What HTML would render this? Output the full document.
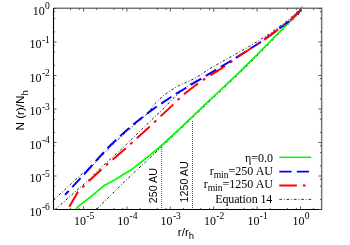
<!DOCTYPE html>
<html><head><meta charset="utf-8"><title>plot</title>
<style>
html,body{margin:0;padding:0;background:#fff;}
svg{display:block;will-change:transform;}
text{fill:#000}
.s{font-family:"Liberation Serif",serif;font-size:12px}
.sup{font-family:"Liberation Serif",serif;font-size:9.6px}
.h{font-family:"Liberation Sans",sans-serif;font-size:11.6px}
.h2{font-family:"Liberation Sans",sans-serif;font-size:10.7px}
</style></head>
<body>
<svg width="350" height="245" viewBox="0 0 350 245">
<rect width="350" height="245" fill="#fff"/>
<path d="M53.6,200.0 L80.7,175.0 L91.0,167.0 L100.0,157.8 L107.1,150.3 L115.7,141.8 L120.0,137.8 L128.6,130.0 L132.9,126.2 L142.1,118.6 L146.4,114.6 L150.0,110.4 L154.3,104.3 L158.6,100.0 L164.3,95.0 L171.4,90.0 L178.6,85.7 L185.7,82.6 L192.9,79.3 L200.0,75.2 L208.6,69.3 L218.6,63.6 L231.4,56.4 L242.9,50.0 L250.0,45.9 L258.6,40.7 L270.0,33.4 L279.3,26.6 L288.6,19.6 L295.0,13.8 L302.5,6.6" fill="none" stroke="#000" stroke-width="0.9" stroke-dasharray="2.4 2.05 0.85 2.05"/>
<path d="M55.0,209.5 L57.9,207.1 L88.6,180.0 L100.0,168.5 L108.6,160.6 L121.4,149.3 L130.7,140.0 L150.0,121.4 L165.7,106.4 L172.9,98.6 L178.6,93.6 L187.9,86.0 L192.9,82.0 L197.0,80.0" fill="none" stroke="#000" stroke-width="0.9" stroke-dasharray="2.4 2.05 0.85 2.05"/>
<path d="M97.0,209.0 L101.4,204.3 L131.4,175.0 L150.0,157.9 L158.6,149.5 L167.5,141.3 L180.0,129.5 L192.4,117.8 L204.3,106.4 L222.0,89.7 L241.4,71.4 L256.4,56.5 L270.0,42.7 L280.0,32.5 L291.4,21.0 L303.0,10.5" fill="none" stroke="#000" stroke-width="0.9" stroke-dasharray="2.4 2.05 0.85 2.05"/>
<path d="M75.2,210.0 L78.6,206.2 L88.0,198.9 L96.0,192.3 L104.5,185.3 L110.0,182.4 L115.0,179.8 L122.9,174.8 L131.2,169.8 L140.0,163.0 L150.0,155.1 L158.6,148.0 L167.5,140.0 L180.0,128.3 L192.4,116.6 L204.3,105.2 L222.0,88.5 L241.4,70.2 L256.4,55.3 L270.0,41.5 L280.0,31.3 L291.4,19.8 L301.3,9.4" fill="none" stroke="#00ff00" stroke-width="1.7"/>
<path d="M65.0,194.8 L68.6,191.0 L72.1,187.3 L80.3,178.4 L83.6,174.8 L91.4,166.0 L95.4,161.5 L100.0,156.3 L107.1,148.7 L115.7,140.2 L120.0,136.2 L128.6,128.5 L132.9,124.8 L142.1,117.5 L146.4,114.2 L150.0,111.4 L155.7,107.3 L160.7,103.9 L170.0,97.7 L175.7,94.0 L185.0,88.5 L190.7,85.0 L200.0,79.4 L205.7,75.9 L214.3,70.8 L230.7,61.0 L235.0,58.3 L250.0,48.8 L260.0,42.5 L270.0,35.5 L279.3,28.6 L288.6,21.6 L295.0,15.6 L301.3,9.4" fill="none" stroke="#0000ff" stroke-width="1.95" stroke-dasharray="12.3 5.2" stroke-dashoffset="7"/>
<path d="M69.3,206.8 L73.5,199.5 L77.9,191.9 L80.0,189.8 L83.5,186.4 L87.9,182.2 L94.3,176.0 L100.0,170.8 L106.4,165.1 L112.1,160.1 L125.0,149.0 L130.3,144.2 L135.7,139.2 L149.3,127.0 L154.3,122.3 L159.7,117.2 L172.1,105.6 L177.1,100.6 L183.1,95.0 L190.0,89.5 L196.0,85.0 L202.1,80.6 L208.6,76.4 L216.4,71.6 L230.7,62.3 L235.0,59.0 L250.0,49.0 L260.0,42.5 L270.0,35.5 L279.3,28.6 L288.6,21.6 L295.0,15.6 L301.3,9.4" fill="none" stroke="#ff0000" stroke-width="1.95" stroke-dasharray="17.5 6 2.8 6"/>
<line x1="161.7" y1="147" x2="161.7" y2="209.5" stroke="#4a4a4a" stroke-width="1" stroke-dasharray="1 1"/>
<line x1="192.5" y1="121" x2="192.5" y2="209.5" stroke="#4a4a4a" stroke-width="1" stroke-dasharray="1 1"/>
<path d="M53.5,8.25 H321.65 V209.5" fill="none" stroke="#777" stroke-width="1.5" stroke-linejoin="miter"/>
<path d="M53.5,8.0 V209.5 H322.0" fill="none" stroke="#000" stroke-width="1.1"/>
<path d="M53.5,209.5 h3 M321.5,209.5 h-3 M83.6,209.5 v-3 M83.6,8.5 v3 M53.5,176.0 h3 M321.5,176.0 h-3 M126.9,209.5 v-3 M126.9,8.5 v3 M53.5,142.5 h3 M321.5,142.5 h-3 M170.3,209.5 v-3 M170.3,8.5 v3 M53.5,109.0 h3 M321.5,109.0 h-3 M213.7,209.5 v-3 M213.7,8.5 v3 M53.5,75.5 h3 M321.5,75.5 h-3 M257.1,209.5 v-3 M257.1,8.5 v3 M53.5,42.0 h3 M321.5,42.0 h-3 M300.5,209.5 v-3 M300.5,8.5 v3 M53.5,8.5 h3 M321.5,8.5 h-3" stroke="#444" stroke-width="0.9" fill="none"/>
<path d="M53.5,199.4 h1.6 M321.5,199.4 h-1.6 M70.5,209.5 v-1.6 M70.5,8.5 v1.6 M53.5,186.1 h1.6 M321.5,186.1 h-1.6 M79.3,209.5 v-1.6 M79.3,8.5 v1.6 M53.5,179.2 h1.6 M321.5,179.2 h-1.6 M96.6,209.5 v-1.6 M96.6,8.5 v1.6 M53.5,165.9 h1.6 M321.5,165.9 h-1.6 M113.9,209.5 v-1.6 M113.9,8.5 v1.6 M53.5,152.6 h1.6 M321.5,152.6 h-1.6 M122.7,209.5 v-1.6 M122.7,8.5 v1.6 M53.5,145.7 h1.6 M321.5,145.7 h-1.6 M140.0,209.5 v-1.6 M140.0,8.5 v1.6 M53.5,132.4 h1.6 M321.5,132.4 h-1.6 M157.3,209.5 v-1.6 M157.3,8.5 v1.6 M53.5,119.1 h1.6 M321.5,119.1 h-1.6 M166.1,209.5 v-1.6 M166.1,8.5 v1.6 M53.5,112.2 h1.6 M321.5,112.2 h-1.6 M183.4,209.5 v-1.6 M183.4,8.5 v1.6 M53.5,98.9 h1.6 M321.5,98.9 h-1.6 M200.7,209.5 v-1.6 M200.7,8.5 v1.6 M53.5,85.6 h1.6 M321.5,85.6 h-1.6 M209.5,209.5 v-1.6 M209.5,8.5 v1.6 M53.5,78.7 h1.6 M321.5,78.7 h-1.6 M226.8,209.5 v-1.6 M226.8,8.5 v1.6 M53.5,65.4 h1.6 M321.5,65.4 h-1.6 M244.0,209.5 v-1.6 M244.0,8.5 v1.6 M53.5,52.1 h1.6 M321.5,52.1 h-1.6 M252.9,209.5 v-1.6 M252.9,8.5 v1.6 M53.5,45.2 h1.6 M321.5,45.2 h-1.6 M270.2,209.5 v-1.6 M270.2,8.5 v1.6 M53.5,31.9 h1.6 M321.5,31.9 h-1.6 M287.4,209.5 v-1.6 M287.4,8.5 v1.6 M53.5,18.6 h1.6 M321.5,18.6 h-1.6 M296.3,209.5 v-1.6 M296.3,8.5 v1.6 M53.5,11.7 h1.6 M321.5,11.7 h-1.6 M313.6,209.5 v-1.6 M313.6,8.5 v1.6" stroke="#333" stroke-width="0.8" fill="none"/>
<text x="85.9" y="224.6" class="s" text-anchor="end">10</text><text x="86.2" y="218.8" class="sup">-5</text>
<text x="129.2" y="224.6" class="s" text-anchor="end">10</text><text x="129.5" y="218.8" class="sup">-4</text>
<text x="172.6" y="224.6" class="s" text-anchor="end">10</text><text x="172.9" y="218.8" class="sup">-3</text>
<text x="216.0" y="224.6" class="s" text-anchor="end">10</text><text x="216.3" y="218.8" class="sup">-2</text>
<text x="259.4" y="224.6" class="s" text-anchor="end">10</text><text x="259.7" y="218.8" class="sup">-1</text>
<text x="304.5" y="224.6" class="s" text-anchor="end">10</text><text x="304.8" y="218.8" class="sup">0</text>
<text x="41.6" y="215.8" class="s" text-anchor="end">10</text><text x="41.9" y="210.0" class="sup">-6</text>
<text x="41.6" y="182.3" class="s" text-anchor="end">10</text><text x="41.9" y="176.5" class="sup">-5</text>
<text x="41.6" y="148.8" class="s" text-anchor="end">10</text><text x="41.9" y="143.0" class="sup">-4</text>
<text x="41.6" y="115.3" class="s" text-anchor="end">10</text><text x="41.9" y="109.5" class="sup">-3</text>
<text x="41.6" y="81.8" class="s" text-anchor="end">10</text><text x="41.9" y="76.0" class="sup">-2</text>
<text x="41.6" y="48.3" class="s" text-anchor="end">10</text><text x="41.9" y="42.5" class="sup">-1</text>
<text x="44.8" y="14.8" class="s" text-anchor="end">10</text><text x="45.1" y="9.0" class="sup">0</text>
<text x="177.8" y="235.5" class="h">r/r<tspan dy="3.7" font-size="9.5">h</tspan></text>
<text transform="translate(24,130.4) rotate(-90)" class="h">N (r)/N<tspan dy="3.7" font-size="9.5">h</tspan></text>
<text transform="translate(157.1,203.2) rotate(-90)" class="h2">250 AU</text>
<text transform="translate(187.6,202.4) rotate(-90)" class="h2">1250 AU</text>
<text x="273" y="161.6" class="s" text-anchor="end">η=0.0</text>
<text x="273" y="174.7" class="s" text-anchor="end">r<tspan dy="3" font-size="9.6">min</tspan><tspan dy="-3">=250 AU</tspan></text>
<text x="273" y="188.3" class="s" text-anchor="end">r<tspan dy="3" font-size="9.6">min</tspan><tspan dy="-3">=1250 AU</tspan></text>
<text x="272.2" y="203.3" class="s" text-anchor="end" letter-spacing="-0.12">Equation 14</text>
<line x1="279.3" x2="311.2" y1="157.2" y2="157.2" stroke="#00ff00" stroke-width="1.6"/>
<line x1="279.3" x2="311.2" y1="171.6" y2="171.6" stroke="#0000ff" stroke-width="1.95" stroke-dasharray="12.3 5.2"/>
<line x1="279.3" x2="311.2" y1="185.4" y2="185.4" stroke="#ff0000" stroke-width="1.95" stroke-dasharray="17.5 6 2.8 6"/>
<line x1="279.3" x2="311.2" y1="199.4" y2="199.4" stroke="#111" stroke-width="0.85" stroke-dasharray="2.7 1.9 0.8 1.9"/>
</svg>
</body></html>
